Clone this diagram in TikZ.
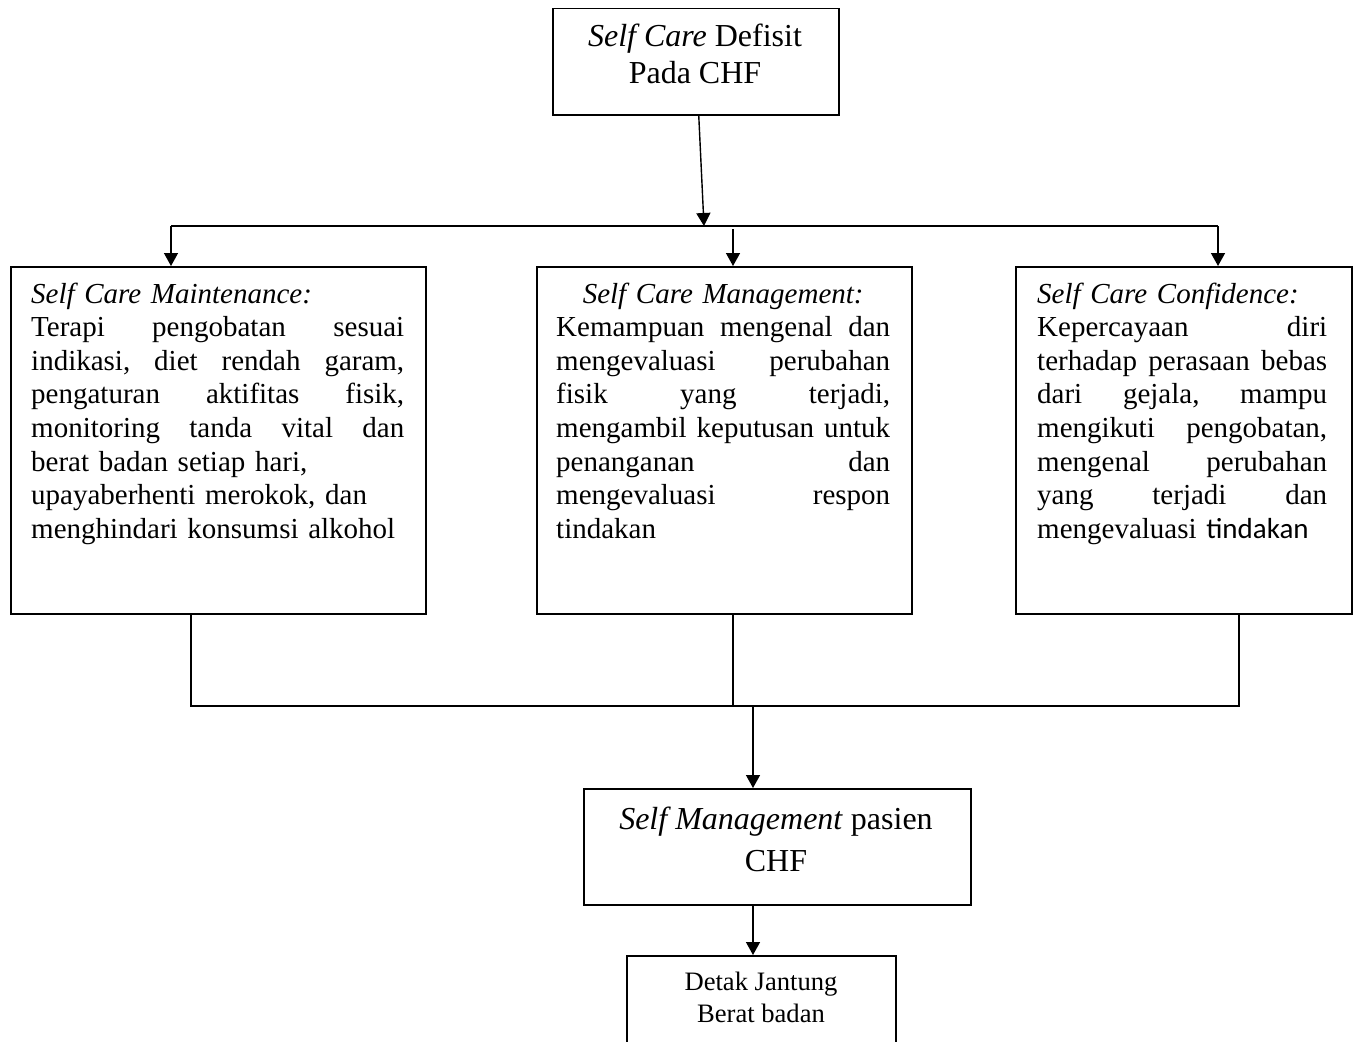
\documentclass[tikz,border=0pt]{standalone}
\usepackage{fontspec}
\setmainfont{Liberation Serif}
\newfontfamily\calib{Carlito}
\usetikzlibrary{arrows.meta}
\newcommand\jl[2]{\leavevmode\hbox to #1{\frenchspacing\spaceskip=0.25em plus 1fill\relax #2}}
\begin{document}
\begin{tikzpicture}[x=1pt,y=-1pt,
  box/.style={draw, line width=1.5pt, inner sep=0pt, anchor=north west},
  arr/.style={line width=1.4pt, -{Triangle[length=13pt,width=14pt]}},
  ln/.style={line width=1.3pt},
  body/.style={inner sep=0pt, anchor=base west, align=left, font=\fontsize{29}{33.6}\selectfont},
  big/.style={inner sep=0pt, anchor=base, align=center, font=\fontsize{32}{36}\selectfont},
]
\clip (0,0) rectangle (1354,1041);
\fill[white] (0,0) rectangle (1354,1041);

% boxes
\node[box, minimum width=286pt, minimum height=106pt] (top) at (552,8) {};
\node[box, minimum width=415pt, minimum height=347pt] (mA) at (10,266) {};
\node[box, minimum width=375pt, minimum height=347pt] (mB) at (536,266) {};
\node[box, minimum width=336pt, minimum height=347pt] (mC) at (1015,266) {};
\node[box, minimum width=387pt, minimum height=116pt] (sm) at (583,788) {};
\node[box, minimum width=269pt, minimum height=130pt] (dj) at (626,955) {};

% texts
\node[big] (topT) at (695,83) {\textit{Self Care} Defisit\\Pada CHF};

\node[body, text width=373pt] (tA) at (31,303) {%
\textit{Self Care Maintenance:}\\
\jl{373pt}{Terapi pengobatan sesuai}\\
\jl{373pt}{indikasi, diet rendah garam,}\\
\jl{373pt}{pengaturan aktifitas fisik,}\\
\jl{373pt}{monitoring tanda vital dan}\\
berat badan setiap hari,\\
upayaberhenti merokok, dan\\
menghindari konsumsi alkohol};

\node[body, text width=334pt] (tB) at (556,303) {%
\makebox[334pt][c]{\textit{Self Care Management:}}\\
\jl{334pt}{Kemampuan mengenal dan}\\
\jl{334pt}{mengevaluasi perubahan}\\
\jl{334pt}{fisik yang terjadi,}\\
\jl{334pt}{mengambil keputusan untuk}\\
\jl{334pt}{penanganan dan}\\
\jl{334pt}{mengevaluasi respon}\\
tindakan};

\node[body, text width=290pt] (tC) at (1037,303) {%
\textit{Self Care Confidence:}\\
\jl{290pt}{Kepercayaan diri}\\
\jl{290pt}{terhadap perasaan bebas}\\
\jl{290pt}{dari gejala, mampu}\\
\jl{290pt}{mengikuti pengobatan,}\\
\jl{290pt}{mengenal perubahan}\\
\jl{290pt}{yang terjadi dan}\\
mengevaluasi {\calib tindakan}};

\node[big, font=\fontsize{32}{42}\selectfont] (smT) at (776,871) {\textit{Self Management} pasien\\CHF};
\node[big, font=\fontsize{26.6}{32}\selectfont] (djT) at (761,1022) {Detak Jantung\\Berat badan};

% connectors
\coordinate (j1) at (704,226);
\coordinate (hl) at (171,226);
\coordinate (hr) at (1218,226);
\coordinate (hm) at (733,229);
\draw[arr] ([xshift=3pt]top.south) -- (j1);
\draw[ln, line width=1.6pt] (hl) -- (hr);
\draw[arr] (hl) -- (hl |- mA.north);
\draw[arr] (hm) -- (hm |- mB.north);
\draw[arr] (hr) -- (hr |- mC.north);

\coordinate (bl) at (191,706);
\coordinate (bm) at (733,706);
\coordinate (br) at (1239,706);
\coordinate (bo) at (753,706);
\draw[ln] (bl |- mA.south) -- (bl) -- (br) -- (br |- mC.south);
\draw[ln] (bm |- mB.south) -- (bm);
\draw[arr] (bo) -- (bo |- sm.north);
\draw[arr] (bo |- sm.south) -- (bo |- dj.north);
\end{tikzpicture}
\end{document}
